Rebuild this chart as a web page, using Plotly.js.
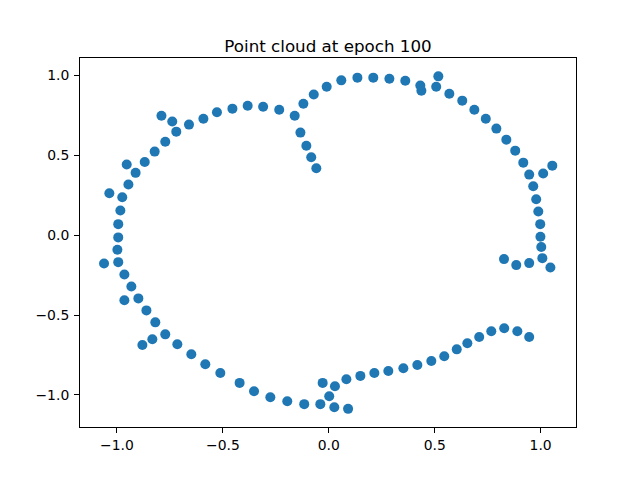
<!DOCTYPE html>
<html>
<head>
<meta charset="utf-8">
<script src="https://cdn.plot.ly/plotly-3.0.1.min.js"></script>
<style>
  body { margin: 0; padding: 0; background: #fff; }
  #plot { width: 640px; height: 480px; }
</style>
</head>
<body>
<div id="plot"></div>
<script>
// point cloud
var xs = [-0.79, -0.739, -0.72, -0.772, -0.822, -0.869, -0.912, -0.954, -0.946, -0.975,
  -1.036, -0.984, -0.994, -0.994, -0.998, -0.994, -1.061, -0.965, -0.932, -0.965,
  -0.899, -0.861, -0.819, -0.772, -0.833, -0.880, -0.715, -0.649, -0.583, -0.512,
  -0.421, -0.353, -0.276, -0.196, -0.116, -0.040, -0.029, 0.002, 0.026, 0.091,
  0.029, 0.083, 0.149, 0.215, 0.281, 0.352, 0.418, 0.484, 0.545, 0.604,
  0.654, 0.71, 0.767, 0.828, 0.89, 0.946, 0.827, 0.885, 0.946, 1.008,
  1.046, 1.003, 0.999, 0.998, 0.989, 0.979, 0.965, 0.946, 1.012, 1.055,
  0.918, 0.880, 0.838, 0.791, 0.741, 0.687, 0.630, 0.569, 0.507, 0.517,
  0.437, 0.432, 0.361, 0.286, 0.21, 0.135, 0.059, -0.01, -0.071, -0.12,
  -0.161, -0.134, -0.106, -0.083, -0.059, -0.234, -0.31, -0.383, -0.455, -0.528,
  -0.592, -0.66];
var ys = [0.748, 0.711, 0.648, 0.585, 0.523, 0.458, 0.39, 0.442, 0.317, 0.237,
  0.262, 0.154, 0.069, -0.014, -0.091, -0.169, -0.177, -0.246, -0.321, -0.408,
  -0.396, -0.471, -0.546, -0.621, -0.652, -0.688, -0.683, -0.746, -0.808, -0.8625,
  -0.925, -0.977, -1.015, -1.04, -1.058, -1.058, -0.925, -1.008, -1.077, -1.0875,
  -0.946, -0.902, -0.881, -0.8625, -0.85, -0.833, -0.8125, -0.7875, -0.758, -0.715,
  -0.677, -0.6375, -0.602, -0.583, -0.602, -0.6375, -0.15, -0.1875, -0.175, -0.144,
  -0.202, -0.074, -0.01, 0.069, 0.148, 0.225, 0.306, 0.379, 0.386, 0.435,
  0.454, 0.529, 0.598, 0.667, 0.729, 0.785, 0.842, 0.885, 0.929, 0.994,
  0.904, 0.937, 0.967, 0.979, 0.986, 0.986, 0.969, 0.929, 0.881, 0.823,
  0.748, 0.642, 0.56, 0.488, 0.419, 0.785, 0.804, 0.81, 0.792, 0.769,
  0.729, 0.692];
var tickVals = [-1.0, -0.5, 0.0, 0.5, 1.0];

var trace = {
  x: xs,
  y: ys,
  type: 'scatter',
  mode: 'markers',
  hoverinfo: 'none',
  marker: { color: '#1f77b4', size: 10, line: { width: 0 } }
};

var axisStyle = {
  showgrid: false,
  zeroline: false,
  showline: true,
  mirror: true,
  linecolor: '#000',
  linewidth: 1,
  ticks: 'outside',
  ticklen: 5,
  tickwidth: 1,
  tickcolor: '#000',
  tickvals: tickVals,
  tickformat: '.1f',
  tickfont: { family: 'DejaVu Sans', size: 13.9, color: '#000' }
};

var layout = {
  width: 640,
  height: 480,
  showlegend: false,
  paper_bgcolor: '#fff',
  plot_bgcolor: '#fff',
  margin: { l: 80, r: 64, t: 58, b: 53, pad: 0 },
  title: {
    text: 'Point cloud at epoch 100',
    font: { family: 'DejaVu Sans', size: 16.7, color: '#000' },
    x: 0.5, xref: 'paper', xanchor: 'center',
    y: 1, yref: 'paper', yanchor: 'bottom',
    pad: { b: 6 }
  },
  xaxis: Object.assign({}, axisStyle, { range: [-1.1745, 1.1669] }),
  yaxis: Object.assign({}, axisStyle, { range: [-1.201, 1.109], ticklabelstandoff: 2 })
};

Plotly.newPlot('plot', [trace], layout, { displayModeBar: false, staticPlot: true });
</script>
</body>
</html>
